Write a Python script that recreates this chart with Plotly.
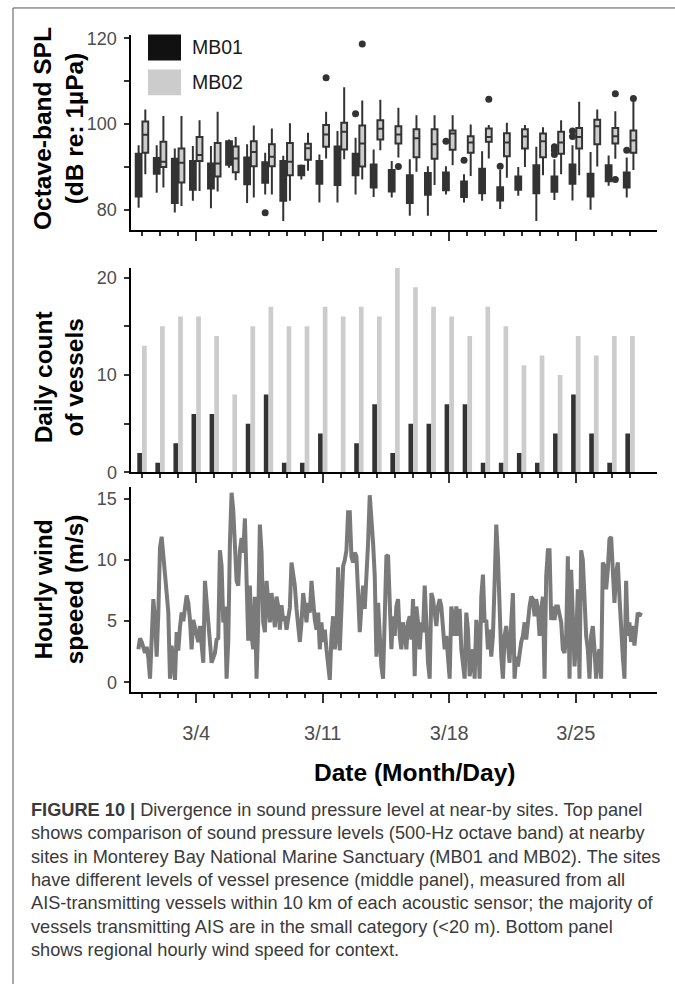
import numpy as np
import plotly.graph_objects as go

# ---------------- data ----------------
days = np.arange(1, 29)  # March 1 .. March 28

# Top panel: octave-band SPL (dB re 1 uPa), daily box statistics
mb01_q1 = [83.1, 88.4, 81.6, 84.7, 85.0, 90.5, 86.0, 86.3, 82.1, 88.1, 86.1, 85.8, 88.1, 85.2,
           84.3, 81.6, 83.5, 84.6, 83.0, 83.9, 82.2, 84.7, 83.9, 84.2, 86.1, 83.1, 86.7, 85.2]
mb01_med = [88.1, 90.2, 86.7, 88.0, 87.9, 93.2, 89.1, 88.7, 86.7, 89.2, 88.7, 90.3, 90.6, 87.9,
            86.8, 84.8, 86.0, 86.6, 84.8, 86.7, 83.7, 86.2, 87.1, 86.0, 88.3, 85.7, 88.5, 86.9]
mb01_q3 = [93.1, 92.1, 91.9, 91.4, 90.8, 96.0, 92.2, 91.1, 91.4, 90.3, 91.4, 94.8, 93.1, 90.6,
           89.3, 88.1, 88.6, 88.7, 86.6, 89.6, 85.3, 87.8, 90.4, 87.8, 90.6, 88.4, 90.4, 88.7]
mb01_lo = [80.5, 84.0, 79.4, 82.1, 80.4, 89.8, 81.6, 83.6, 77.4, 87.1, 81.7, 81.7, 83.6, 83.0,
           82.9, 78.6, 78.6, 83.6, 81.7, 82.1, 80.2, 83.3, 77.4, 82.3, 82.2, 80.0, 85.6, 82.9]
mb01_hi = [95.1, 95.1, 94.3, 94.9, 94.9, 96.4, 95.3, 93.3, 92.6, 90.6, 92.9, 98.4, 96.8, 94.1,
           91.4, 91.8, 90.2, 90.2, 88.3, 93.7, 89.3, 90.0, 94.7, 91.8, 95.1, 93.5, 92.7, 92.2]

mb02_q1 = [93.3, 90.0, 86.4, 91.4, 87.8, 88.8, 90.2, 90.2, 88.1, 91.7, 94.7, 94.1, 90.1, 96.4,
           95.5, 92.3, 91.9, 94.0, 93.3, 95.9, 92.5, 94.3, 92.3, 93.1, 94.3, 95.3, 95.5, 93.3]
mb02_med = [97.5, 91.2, 91.0, 92.8, 90.8, 92.0, 93.5, 92.4, 91.2, 94.4, 97.6, 98.2, 95.5, 98.9,
            97.6, 96.7, 95.3, 97.8, 95.7, 97.0, 95.7, 97.1, 96.0, 95.7, 97.0, 99.5, 97.2, 96.2]
mb02_q3 = [100.6, 95.9, 94.3, 97.0, 95.6, 94.8, 96.0, 95.3, 95.6, 95.4, 99.8, 100.3, 99.7, 100.9,
           99.5, 98.8, 98.8, 98.5, 97.2, 99.0, 97.9, 98.8, 97.8, 98.2, 99.1, 101.0, 99.1, 98.5]
mb02_lo = [88.3, 85.2, 80.9, 84.4, 84.3, 86.9, 82.9, 83.6, 82.1, 89.1, 92.0, 91.8, 87.1, 93.9,
           92.2, 88.9, 85.8, 90.4, 87.9, 92.0, 87.5, 90.0, 88.1, 88.3, 88.1, 90.1, 91.9, 89.3]
mb02_hi = [103.4, 101.9, 101.9, 100.9, 102.9, 97.0, 99.7, 99.0, 100.2, 98.0, 102.9, 108.6, 105.5, 105.7,
           103.8, 102.1, 102.1, 102.1, 99.9, 99.8, 100.3, 99.8, 99.3, 100.9, 105.2, 103.4, 103.0, 105.3]

mb01_out_day = [8, 13, 18, 19, 21, 24, 24, 24, 25, 25, 28]
mb01_out_val = [79.3, 102.4, 96.0, 91.6, 90.2, 94.7, 93.9, 92.9, 98.4, 97.1, 93.9]
mb02_out_day = [11, 13, 15, 20, 27, 27, 28]
mb02_out_val = [110.8, 118.7, 90.1, 105.8, 107.1, 87.1, 106.0]

# Middle panel: daily count of vessels
mb01_counts = [2, 1, 3, 6, 6, 0, 5, 8, 1, 1, 4, 0, 3, 7, 2, 5, 5, 7, 7, 1, 1, 2, 1, 4, 8, 4, 1, 4]
mb02_counts = [13, 15, 16, 16, 14, 8, 15, 17, 15, 15, 17, 16, 17, 16, 21, 19, 17, 16, 14, 17, 15,
               11, 12, 10, 14, 12, 14, 14]

# Bottom panel: regional wind speed (m/s), regular samples from Feb 29 evening to Mar 28 afternoon
wind_start_day = 0.80
wind_end_day = 28.61
wind_speed = [
    2.7, 3.6, 3.3, 2.9, 2.4, 2.9, 2.0, 0.3, 4.5, 6.8,
    5.1, 2.1, 5.7, 11.0, 11.9, 10.0, 8.3, 7.3, 5.7, 0.3,
    3.0, 1.2, 0.2, 4.1, 2.6, 4.5, 5.7, 5.0, 6.2, 7.1,
    6.5, 5.1, 2.7, 5.1, 4.5, 3.9, 3.3, 4.6, 2.7, 1.6,
    8.3, 6.5, 5.1, 3.3, 1.6, 2.0, 2.4, 3.5, 3.6, 10.8,
    9.5, 4.9, 6.2, 0.3, 3.3, 11.4, 15.5, 14.1, 11.4, 8.3,
    7.9, 10.8, 11.8, 10.6, 13.4, 8.7, 3.4, 7.9, 3.8, 2.7,
    7.0, 0.3, 4.9, 12.9, 10.6, 4.9, 4.1, 8.3, 6.8, 4.9,
    7.3, 6.2, 4.5, 7.0, 6.2, 4.3, 6.3, 5.0, 5.4, 4.3,
    5.4, 6.1, 9.8, 8.7, 7.9, 6.0, 4.3, 3.3, 4.9, 7.3,
    6.2, 4.9, 6.5, 5.7, 8.3, 6.2, 5.1, 4.3, 5.7, 2.7,
    4.9, 3.3, 4.3, 2.7, 1.5, 0.2, 3.8, 5.4, 2.7, 3.8,
    9.4, 2.6, 6.0, 9.5, 10.0, 10.8, 13.9, 13.9, 10.3, 9.8,
    10.6, 10.3, 7.3, 4.1, 6.2, 7.9, 6.0, 8.4, 11.4, 15.3,
    13.6, 11.4, 8.7, 2.1, 6.5, 3.8, 1.3, 0.3, 5.4, 10.3,
    10.4,
    6.8, 2.7, 5.4, 3.8, 6.2, 6.8, 3.8, 2.7, 4.9, 4.1,
    2.7, 4.9, 5.4, 3.5, 6.8, 0.5, 6.2, 4.9, 2.7, 4.9,
    4.1, 7.9, 4.9, 1.6, 0.3, 7.3, 6.8, 5.4, 4.6, 6.2,
    6.8, 6.2, 4.6, 2.7, 3.8, 2.4, 0.3, 6.2, 5.4, 3.8,
    6.2, 3.8, 6.0, 2.7, 1.6, 0.3, 5.7, 4.3, 0.5, 1.6,
    2.7, 0.3, 5.1, 3.8, 0.3, 7.0, 8.8, 4.9, 5.1, 2.7,
    4.3, 2.1, 3.8, 8.1, 12.9, 10.3, 5.4, 2.1, 0.3, 3.8,
    4.6, 2.7, 1.6, 4.9, 7.3, 0.3, 2.1, 1.3, 2.7, 3.3,
    3.8, 4.9, 3.5, 5.1, 6.2, 7.0, 6.8, 5.4, 6.8, 6.0,
    3.8, 6.0, 7.0, 0.3, 8.7, 10.8, 10.8, 5.1, 6.2, 5.1,
    6.2, 6.2, 5.4, 4.9, 2.7, 2.4, 3.8, 10.3, 0.3, 9.2,
    5.4, 1.3, 3.3, 7.6, 0.3, 10.8, 10.0, 6.8, 3.8, 2.7,
    0.3, 3.8, 4.6, 2.7, 0.3, 2.1, 2.7, 0.3, 9.8, 9.5,
    7.6, 9.2, 11.7, 11.9, 8.1, 6.5, 8.9, 9.8, 7.0, 4.1,
    2.1, 0.3, 8.3, 3.8, 4.9, 3.3, 4.6, 3.0, 4.6, 5.7,
    5.4, 5.7,
]
wind_day = np.linspace(wind_start_day, wind_end_day, len(wind_speed))

site_names = ["MB01", "MB02"]
site_colors = ["#333333", "#cccccc"]
legend_colors = ["#111111", "#cccccc"]

caption_lines = [
    "<b>FIGURE 10 |</b> Divergence in sound pressure level at near-by sites. Top panel",
    "shows comparison of sound pressure levels (500-Hz octave band) at nearby",
    "sites in Monterey Bay National Marine Sanctuary (MB01 and MB02). The sites",
    "have different levels of vessel presence (middle panel), measured from all",
    "AIS-transmitting vessels within 10 km of each acoustic sensor; the majority of",
    "vessels transmitting AIS are in the small category (&lt;20 m). Bottom panel",
    "shows regional hourly wind speed for context.",
]

# ---------------- figure ----------------
W, H = 675, 984
FONT = "Liberation Sans, Arial, Helvetica, sans-serif"
BOX_OFF = 0.185
BOX_W = 0.32
BAR_W = 0.26


def px_x(p):
    return p / W


def px_y(p):
    return 1 - p / H


fig = go.Figure()

box_sets = [
    (mb01_q1, mb01_med, mb01_q3, mb01_lo, mb01_hi, -BOX_OFF, site_colors[0]),
    (mb02_q1, mb02_med, mb02_q3, mb02_lo, mb02_hi, BOX_OFF, site_colors[1]),
]
for (q1, med, q3, lo, hi, off, col), name in zip(box_sets, site_names):
    fig.add_trace(go.Box(
        x=days + off, q1=q1, median=med, q3=q3, lowerfence=lo, upperfence=hi,
        width=BOX_W, fillcolor=col, line=dict(color="#333333", width=2),
        boxpoints=False, whiskerwidth=0, name=name, showlegend=False,
        hoverinfo="skip", xaxis="x3", yaxis="y"))

fig.add_trace(go.Scatter(x=np.array(mb01_out_day) - BOX_OFF, y=mb01_out_val, mode="markers",
                         marker=dict(color="#333333", size=7), showlegend=False,
                         hoverinfo="skip", xaxis="x3", yaxis="y"))
fig.add_trace(go.Scatter(x=np.array(mb02_out_day) + BOX_OFF, y=mb02_out_val, mode="markers",
                         marker=dict(color="#333333", size=7), showlegend=False,
                         hoverinfo="skip", xaxis="x3", yaxis="y"))

fig.add_trace(go.Bar(x=days, y=mb01_counts, width=BAR_W, offset=-BAR_W,
                     marker=dict(color=site_colors[0], line=dict(width=0)),
                     showlegend=False, hoverinfo="skip", xaxis="x2", yaxis="y2"))
fig.add_trace(go.Bar(x=days, y=mb02_counts, width=BAR_W, offset=0,
                     marker=dict(color=site_colors[1], line=dict(width=0)),
                     showlegend=False, hoverinfo="skip", xaxis="x2", yaxis="y2"))

fig.add_trace(go.Scatter(x=wind_day, y=wind_speed, mode="lines",
                         line=dict(color="#7a7a7a", width=4),
                         showlegend=False, hoverinfo="skip", xaxis="x", yaxis="y3"))

XDOM = [px_x(130.5), px_x(657)]
XR = [0.365, 29.49]
minor_days = [int(d) for d in days if (d - 4) % 7 != 0]
ytickfont = dict(family=FONT, size=18, color="#4d4d4d")
xtickfont = dict(family=FONT, size=20, color="#4d4d4d")


def xaxis(anchor, labels):
    return dict(domain=XDOM, range=XR, anchor=anchor, showline=True, linecolor="black",
                linewidth=2, ticks="outside", ticklen=9, tickwidth=2, tickcolor="#333333",
                tickmode="linear", tick0=4, dtick=7, tickprefix="3/",
                showticklabels=labels, tickfont=xtickfont, ticklabelstandoff=13,
                showgrid=False, zeroline=False,
                minor=dict(tickmode="array", tickvals=minor_days, ticklen=4, tickwidth=2,
                           tickcolor="#333333", showgrid=False))


def yaxis(dom, rng, anchor, tick0, dtick, minor_dtick=None):
    d = dict(domain=dom, range=rng, anchor=anchor, showline=True, linecolor="black",
             linewidth=2, ticks="outside", ticklen=5, tickwidth=2, tickcolor="#333333",
             tickmode="linear", tick0=tick0, dtick=dtick, tickfont=ytickfont,
             showgrid=False, zeroline=False, ticklabelstandoff=3)
    if minor_dtick:
        d["minor"] = dict(tickmode="linear", tick0=tick0, dtick=minor_dtick, ticklen=5,
                          tickwidth=2, tickcolor="#333333", showgrid=False)
    return d


fig.update_layout(
    width=W, height=H, margin=dict(l=0, r=0, t=0, b=0),
    paper_bgcolor="white", plot_bgcolor="white",
    font=dict(family=FONT),
    barmode="overlay",
    xaxis=xaxis("y3", True),
    xaxis2=xaxis("y2", False),
    xaxis3=xaxis("y", False),
    yaxis=yaxis([px_y(227.7), px_y(29.5)], [75.3, 120.8], "x3", 80, 20, 10),
    yaxis2=yaxis([px_y(474.2), px_y(266.2)], [0, 21], "x2", 0, 10, 5),
    yaxis3=yaxis([px_y(697.4), px_y(488.6)], [-0.8, 16.0], "x", 0, 5),
)
fig.update_layout(xaxis2=dict(matches="x"), xaxis3=dict(matches="x"))

ann = []
title_font = dict(family=FONT, size=24.5, color="black")
for text, yc in [("<b>Octave-band SPL<br>(dB re: 1µPa)</b>", 125),
                 ("<b>Daily count<br>of vessels</b>", 377.5),
                 ("<b>Hourly wind<br>speeed (m/s)</b>", 593)]:
    ann.append(dict(text=text, x=px_x(59), y=px_y(yc), xref="paper", yref="paper",
                    textangle=-90, showarrow=False, font=title_font,
                    xanchor="center", yanchor="middle"))
ann.append(dict(text="<b>Date (Month/Day)</b>", x=px_x(414.5), y=px_y(779.5), xref="paper",
                yref="paper", showarrow=False, font=title_font,
                xanchor="center", yanchor="middle"))

# legend (manual)
shapes = []
for i, (name, col) in enumerate(zip(site_names, legend_colors)):
    y0 = 29 + i * 35.5
    shapes.append(dict(type="rect", xref="paper", yref="paper", x0=px_x(148), x1=px_x(181),
                       y0=px_y(y0 + 26.3), y1=px_y(y0), fillcolor=col, line=dict(width=0)))
    ann.append(dict(text=name, x=px_x(190), y=px_y(y0 + 13), xref="paper", yref="paper",
                    showarrow=False, font=dict(family=FONT, size=19.5, color="#1a1a1a"),
                    xanchor="left", yanchor="middle"))

# caption
for i, line in enumerate(caption_lines):
    ann.append(dict(text=line, x=px_x(29), y=px_y(817 + i * 23.8), xref="paper", yref="paper",
                    showarrow=False, font=dict(family=FONT, size=18.2, color="#3a3a3a"),
                    xanchor="left", yanchor="middle"))

# figure frame
shapes.append(dict(type="rect", xref="paper", yref="paper", x0=px_x(13), x1=1.2,
                   y0=-0.2, y1=px_y(2), line=dict(color="#555555", width=1),
                   fillcolor="rgba(0,0,0,0)", layer="below"))

fig.update_layout(annotations=ann, shapes=shapes)

fig.write_html(
    "out.html",
    config={"displayModeBar": False},
    post_script="document.body.style.margin='0px';"
                "document.documentElement.style.overflow='hidden';",
)
